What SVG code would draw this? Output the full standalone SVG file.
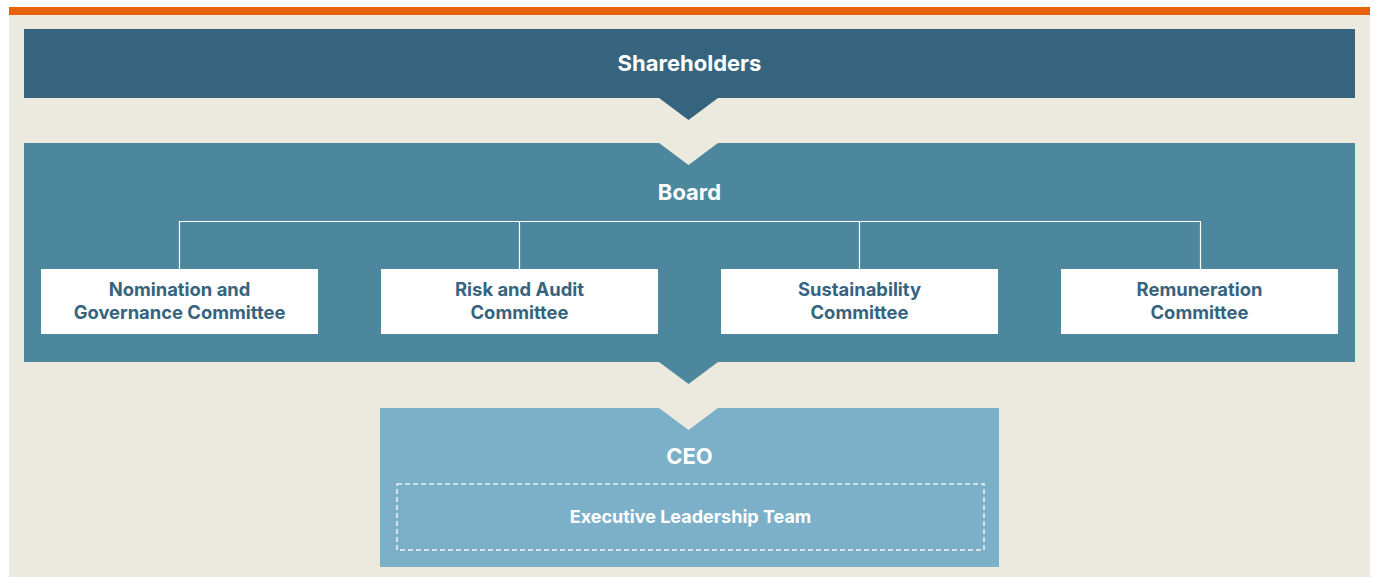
<svg xmlns="http://www.w3.org/2000/svg" width="1375" height="577" viewBox="0 0 1375 577">
<style>
.t{font-family:Inter,"Liberation Sans",sans-serif;font-weight:700;text-anchor:middle}
.big{font-size:22px;fill:#fff}
.cm{font-size:18.4px;fill:#36647E}
.box{fill:#fff}
.con{stroke:#fff;stroke-width:1.2;fill:none}
</style>
<rect x="0" y="0" width="1375" height="577" fill="#fff"/>
<rect x="9" y="15" width="1361" height="562" fill="#ECE9DF"/>
<rect x="9" y="7" width="1361" height="8" fill="#E8620C"/>
<g id="shareholders">
<path d="M24 29H1355V98H718L688.5 120L659 98H24Z" fill="#36647E"/>
<text class="t big" x="689.5" y="71">Shareholders</text>
</g>
<g id="board">
<path d="M24 143H659L688.5 165L718 143H1355V362H718L688.5 384L659 362H24Z" fill="#4D879D"/>
<text class="t big" x="689.5" y="200">Board</text>
</g>
<g id="connectors">
<path class="con" d="M179.5 269V221.5H1200.5V269M519.5 221.5V269M859.5 221.5V269"/>
</g>
<g id="nomination">
<rect class="box" x="41" y="269" width="277" height="65"/>
<text class="t cm" x="179.5" y="296">Nomination and</text>
<text class="t cm" x="179.5" y="319">Governance Committee</text>
</g>
<g id="risk">
<rect class="box" x="381" y="269" width="277" height="65"/>
<text class="t cm" x="519.5" y="296">Risk and Audit</text>
<text class="t cm" x="519.5" y="319">Committee</text>
</g>
<g id="sustainability">
<rect class="box" x="721" y="269" width="277" height="65"/>
<text class="t cm" x="859.5" y="296">Sustainability</text>
<text class="t cm" x="859.5" y="319">Committee</text>
</g>
<g id="remuneration">
<rect class="box" x="1061" y="269" width="277" height="65"/>
<text class="t cm" x="1199.5" y="296">Remuneration</text>
<text class="t cm" x="1199.5" y="319">Committee</text>
</g>
<g id="ceo">
<path d="M380 408H659L688.5 430L718 408H999V567H380Z" fill="#7CB0C9"/>
<text class="t big" x="689.5" y="464">CEO</text>
</g>
<g id="elt">
<rect x="397" y="484" width="587" height="66" fill="none" stroke="#EEF3F6" stroke-width="1.5" stroke-dasharray="5 3"/>
<text class="t" x="690.5" y="523" font-size="18" fill="#fff">Executive Leadership Team</text>
</g>
</svg>
